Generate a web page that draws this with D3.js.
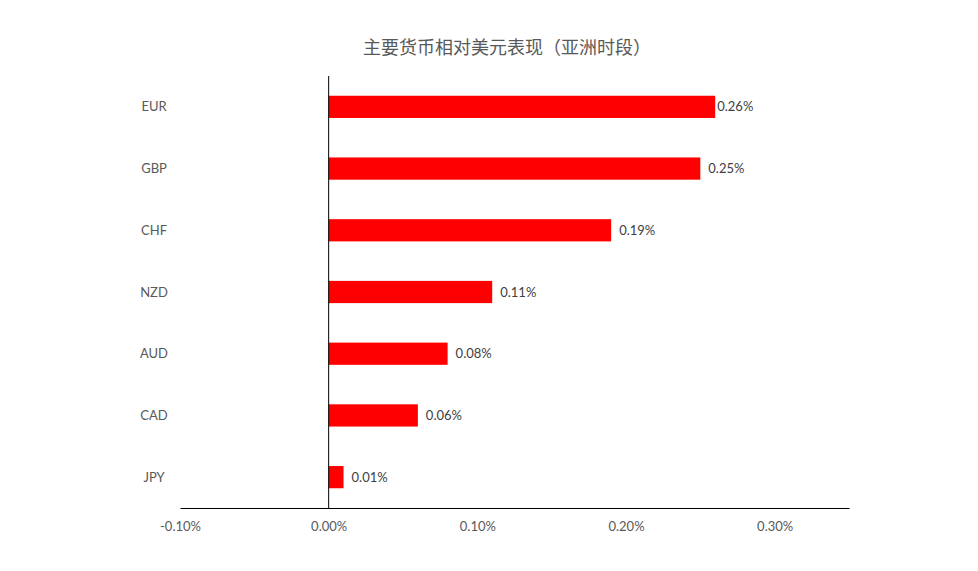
<!DOCTYPE html>
<html>
<head>
<meta charset="utf-8">
<script src="https://cdn.jsdelivr.net/npm/d3@7"></script>
<style>
  body { margin: 0; background: #fff; }
</style>
</head>
<body>
<svg id="chart"></svg>
<script>
const title = '主要货币相对美元表现（亚洲时段）'
const currencies = ['EUR', 'GBP', 'CHF', 'NZD', 'AUD', 'CAD', 'JPY']
const changes = [0.26, 0.25, 0.19, 0.11, 0.08, 0.06, 0.01] // percent vs USD
const xTicks = [-0.1, 0, 0.1, 0.2, 0.3]

const width = 978
const height = 571
const marginTop = 76
const marginBottom = 63 // axis sits at y=508
const marginLeft = 180
const marginRight = 129
const txtColor = '#595959'
const font = 'Lato, "Noto Sans", sans-serif'

const x = d3.scaleLinear([-0.1, 0.35], [marginLeft, width - marginRight])
const y = d3.scaleBand(currencies, [marginTop, height - marginBottom])
  .paddingInner(0.64)
  .paddingOuter(0.32)

const fmt = d => d.toFixed(2) + '%'
// labels sit 8px past the bar end, but Excel pulls the longest one back in
const labelX = v => Math.min(x(v) + 8, x(0.26) + 2)

const svg = d3.select('#chart')
  .attr('width', width)
  .attr('height', height)
  .attr('viewBox', [0, 0, width, height])
  .style('font-family', font)

svg.append('text')
  .attr('x', 507)
  .attr('y', 54)
  .attr('text-anchor', 'middle')
  .attr('fill', txtColor)
  .style('font-family', '"Noto Sans CJK SC", sans-serif')
  .style('font-size', '18px')
  .text(title)

// bars
svg.append('g')
  .selectAll('rect')
  .data(currencies)
  .join('rect')
    .attr('x', x(0))
    .attr('y', d => y(d))
    .attr('width', (d, i) => x(changes[i]) - x(0))
    .attr('height', y.bandwidth())
    .attr('fill', '#ff0000')

// value labels
svg.append('g')
  .selectAll('text')
  .data(currencies)
  .join('text')
    .attr('x', (d, i) => labelX(changes[i]))
    .attr('y', d => y(d) + y.bandwidth() / 2)
    .attr('dy', '0.35em')
    .attr('fill', '#404040')
    .style('font-size', '13px')
    .text((d, i) => fmt(changes[i]))

// category labels, Excel style: low position at left of plot
svg.append('g')
  .selectAll('text')
  .data(currencies)
  .join('text')
    .attr('x', 154)
    .attr('y', d => y(d) + y.bandwidth() / 2)
    .attr('dy', '0.35em')
    .attr('text-anchor', 'middle')
    .attr('fill', txtColor)
    .style('font-size', '13px')
    .text(d => d)

// x axis
const xAxis = d3.axisBottom(x).tickValues(xTicks).tickSize(0).tickPadding(14).tickFormat(fmt)
svg.append('g')
  .attr('transform', `translate(0,${height - marginBottom})`)
  .call(xAxis)
  .call(g => g.select('.domain').attr('stroke', '#000').attr('stroke-width', 1))
  .call(g => g.selectAll('.tick text')
    .attr('fill', txtColor)
    .style('font-size', '13px')
    .style('font-family', font))

// vertical axis line at zero
svg.append('line')
  .attr('x1', x(0))
  .attr('x2', x(0))
  .attr('y1', marginTop)
  .attr('y2', height - marginBottom)
  .attr('stroke', '#000')
  .attr('stroke-width', 1)
</script>
</body>
</html>
